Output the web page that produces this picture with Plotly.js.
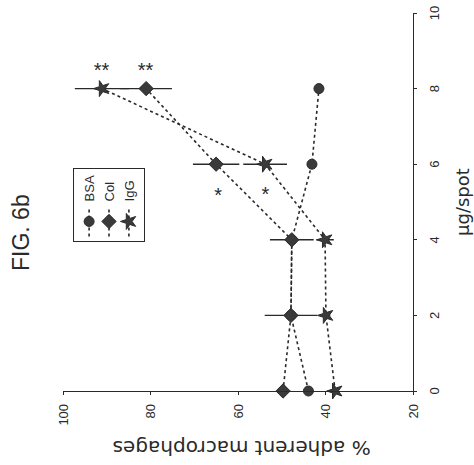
<!DOCTYPE html>
<html>
<head>
<meta charset="utf-8">
<script src="https://cdn.plot.ly/plotly-3.0.1.min.js"></script>
<style>
  html, body { margin: 0; padding: 0; background: #fff; overflow: hidden; }
  #wrap { position: absolute; left: 0; top: 0; width: 474px; height: 465px; overflow: hidden; }
  #chart { position: absolute; left: 0; top: 0; width: 465px; height: 474px;
           transform-origin: 0 0; transform: translate(0px, 465px) rotate(-90deg); }
</style>
</head>
<body>
<div id="wrap"><div id="chart"></div></div>
<script>
// Dose (µg/spot)
const doses = [0, 2, 4, 6, 8];
// % adherent macrophages per coating
const seriesNames = ["BSA", "Col", "IgG"];
const bsaValues = [43.9, 47.9, 47.7, 43.1, 41.5];
const colValues = [49.7, 47.9, 47.7, 65.0, 81.0];
const iggValues = [37.8, 39.9, 40.1, 53.8, 91.1];
// error bars (±)
const bsaErr = [0, 0, 0, 0, 0];
const colErr = [0, 6.0, 5.0, 5.3, 5.9];
const iggErr = [0, 1.0, 2.0, 5.0, 6.2];
// significance marks
const sigX = [8.5, 8.5, 5.2, 5.2];
const sigY = [91.1, 81.0, 64.6, 53.8];
const sigText = ["**", "**", "*", "*"];
// axis ticks
const xTicks = [0, 2, 4, 6, 8, 10];
const yTicks = [20, 40, 60, 80, 100];

const ink = "#2a2a2a";
const font = "Liberation Sans, Arial, sans-serif";
const wideFont = "DejaVu Sans, Verdana, sans-serif";

function mk(name, y, err, symbol, size) {
  return {
    type: "scatter", mode: "lines+markers", name: name,
    x: doses, y: y, cliponaxis: false,
    line: { color: ink, width: 1.6, dash: "dot" },
    marker: { symbol: symbol, size: size, color: "#3a3a3a", line: { color: ink, width: 1 } },
    error_y: { type: "data", array: err, visible: true, width: 0, thickness: 1.4, color: ink }
  };
}

const traces = [
  mk(seriesNames[0], bsaValues, bsaErr, "circle", 10),
  mk(seriesNames[1], colValues, colErr, "diamond", 11),
  mk(seriesNames[2], iggValues, iggErr, "star", 12)
];

const annotations = sigX.map((x, i) => ({
  x: x, y: sigY[i], xref: "x", yref: "y", text: sigText[i], showarrow: false,
  textangle: 90, font: { family: font, size: 20, color: ink }
}));

annotations.push(
  { xref: "paper", yref: "paper", x: -0.153, y: 0.49, xanchor: "center", yanchor: "middle",
    text: "% adherent macrophages", showarrow: false, textangle: -90,
    font: { family: wideFont, size: 20, color: ink } },
  { xref: "paper", yref: "paper", x: 0.5, y: -0.14, xanchor: "center", yanchor: "middle",
    text: "µg/spot", showarrow: false, font: { family: wideFont, size: 18, color: ink } },
  { xref: "paper", yref: "paper", x: 0.42, y: 1.12, xanchor: "center", yanchor: "middle",
    text: "FIG. 6b", showarrow: false, font: { family: font, size: 23, color: ink } }
);

const layout = {
  width: 465, height: 474,
  margin: { l: 74, r: 13, t: 63, b: 61 },
  paper_bgcolor: "#fff", plot_bgcolor: "#fff",
  showlegend: true,
  legend: {
    x: 0.393, y: 0.971, xanchor: "left", yanchor: "top",
    bordercolor: ink, borderwidth: 1, bgcolor: "rgba(255,255,255,0)",
    font: { family: font, size: 13, color: ink },
    itemwidth: 30, tracegroupgap: 0
  },
  xaxis: {
    range: [0, 10], tickvals: xTicks, ticktext: xTicks.map(String),
    showgrid: false, zeroline: false, showline: true, linecolor: ink, linewidth: 1.3,
    ticks: "outside", ticklen: 3, tickcolor: ink, ticklabelstandoff: 6,
    tickfont: { family: font, size: 13, color: ink }
  },
  yaxis: {
    range: [20, 100], tickvals: yTicks, ticktext: yTicks.map(String),
    showgrid: false, zeroline: false, showline: true, linecolor: ink, linewidth: 1.3,
    ticks: "outside", ticklen: 3, tickcolor: ink, ticklabelstandoff: 6,
    tickfont: { family: font, size: 13, color: ink }
  },
  annotations: annotations
};

Plotly.newPlot("chart", traces, layout, { displayModeBar: false, staticPlot: true });
</script>
</body>
</html>
